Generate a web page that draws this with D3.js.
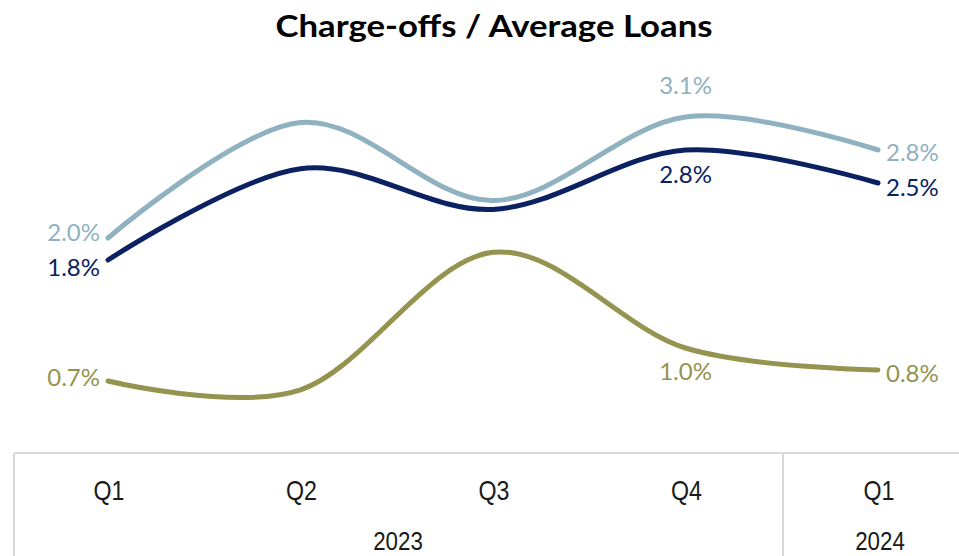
<!DOCTYPE html>
<html>
<head>
<meta charset="utf-8">
<script src="https://cdn.jsdelivr.net/npm/d3@7"></script>
<style>
  html, body { margin: 0; padding: 0; background: #fff; }
  svg { display: block; }
</style>
</head>
<body>
<svg id="chart" width="959" height="556"></svg>
<script>
// Quarters along the x axis and the year groups beneath them
const quarters = ["Q1", "Q2", "Q3", "Q4", "Q1"];
const years = [
  { label: "2023", from: 0, to: 3 },
  { label: "2024", from: 4, to: 4 }
];

// Charge-off ratios (%) per quarter
const seriesLight = [2.0, 3.05, 2.34, 3.1, 2.8];
const seriesDark  = [1.8, 2.63, 2.26, 2.8, 2.5];
const seriesOlive = [0.7, 0.62, 1.87, 1.0, 0.8];

// Which points carry a value label, and where it sits relative to the point
const labelsLight = [{ i: 0, pos: "left", dy: -5 }, { i: 3, pos: "above", dy: 0 }, { i: 4, pos: "right", dy: 2 }];
const labelsDark  = [{ i: 0, pos: "leftBelow", dy: 0 }, { i: 3, pos: "below", dy: 1 }, { i: 4, pos: "right", dy: 4 }];
const labelsOlive = [{ i: 0, pos: "left", dy: -3 }, { i: 3, pos: "below", dy: 0 }, { i: 4, pos: "right", dy: 3 }];

const svg = d3.select("#chart");
const W = 959, H = 556;

const x = d3.scalePoint().domain(d3.range(quarters.length)).range([108, 878]);
const y = d3.scaleLinear().domain([0, 3.5]).range([458, 73]);

// Title
svg.append("text")
  .attr("x", 494).attr("y", 37)
  .attr("text-anchor", "middle")
  .attr("font-family", "Lato, 'Open Sans', sans-serif")
  .attr("font-weight", 700)
  .attr("font-size", 31)
  .attr("fill", "#000")
  .attr("textLength", 437)
  .attr("lengthAdjust", "spacingAndGlyphs")
  .text("Charge-offs / Average Loans");

// Category axis frame
const frame = svg.append("g").attr("stroke", "#d9d9d9").attr("stroke-width", 2).attr("fill", "none");
frame.append("line").attr("x1", 14).attr("x2", W).attr("y1", 453).attr("y2", 453);
frame.append("line").attr("x1", 14).attr("x2", 14).attr("y1", 453).attr("y2", H);
frame.append("line").attr("x1", 783).attr("x2", 783).attr("y1", 453).attr("y2", H);

// Narrow axis text: horizontally squeezed around its own anchor
const axisFont = "'Liberation Sans', Arial, sans-serif";
const squeeze = cx => `translate(${cx},0) scale(0.86,1) translate(${-cx},0)`;

// Quarter labels
svg.append("g").selectAll("text")
  .data(quarters)
  .join("text")
  .attr("x", (d, i) => x(i) + 1)
  .attr("y", 500)
  .attr("text-anchor", "middle")
  .attr("font-family", axisFont)
  .attr("font-size", 27)
  .attr("fill", "#1a1a1a")
  .attr("transform", (d, i) => squeeze(x(i) + 1))
  .text(d => d);

// Year labels, centred under their quarter groups
const yearX = d => d.label === "2023" ? 398 : x(d.from) + 2;
svg.append("g").selectAll("text")
  .data(years)
  .join("text")
  .attr("x", yearX)
  .attr("y", 550)
  .attr("text-anchor", "middle")
  .attr("font-family", axisFont)
  .attr("font-size", 26)
  .attr("fill", "#1a1a1a")
  .attr("transform", d => squeeze(yearX(d)))
  .text(d => d.label);

// Smoothed lines
const line = d3.line()
  .x((d, i) => x(i))
  .y(d => y(d))
  .curve(d3.curveCardinal.tension(0));

const series = [
  { values: seriesOlive, color: "#959350", labels: labelsOlive },
  { values: seriesLight, color: "#8fb1c0", labels: labelsLight },
  { values: seriesDark,  color: "#0b2161", labels: labelsDark }
];

svg.append("g").selectAll("path")
  .data(series)
  .join("path")
  .attr("d", d => line(d.values))
  .attr("fill", "none")
  .attr("stroke", d => d.color)
  .attr("stroke-width", 5)
  .attr("stroke-linecap", "round")
  .attr("stroke-linejoin", "round");

// Value labels
const fmt = v => v.toFixed(1) + "%";
const offsets = {
  left:      { dx: -8,  dy: 0,   anchor: "end" },
  leftBelow: { dx: -8,  dy: 8,   anchor: "end" },
  right:     { dx: 8,   dy: 1,   anchor: "start" },
  above:     { dx: 0,   dy: -31, anchor: "middle" },
  below:     { dx: 0,   dy: 24,  anchor: "middle" }
};

series.forEach(s => {
  svg.append("g").selectAll("text")
    .data(s.labels)
    .join("text")
    .attr("x", d => x(d.i) + offsets[d.pos].dx)
    .attr("y", d => y(s.values[d.i]) + offsets[d.pos].dy + d.dy)
    .attr("dy", "0.35em")
    .attr("text-anchor", d => offsets[d.pos].anchor)
    .attr("font-family", "Lato, 'Open Sans', sans-serif")
    .attr("font-size", 24)
    .attr("fill", s.color)
    .text(d => fmt(s.values[d.i]));
});
</script>
</body>
</html>
